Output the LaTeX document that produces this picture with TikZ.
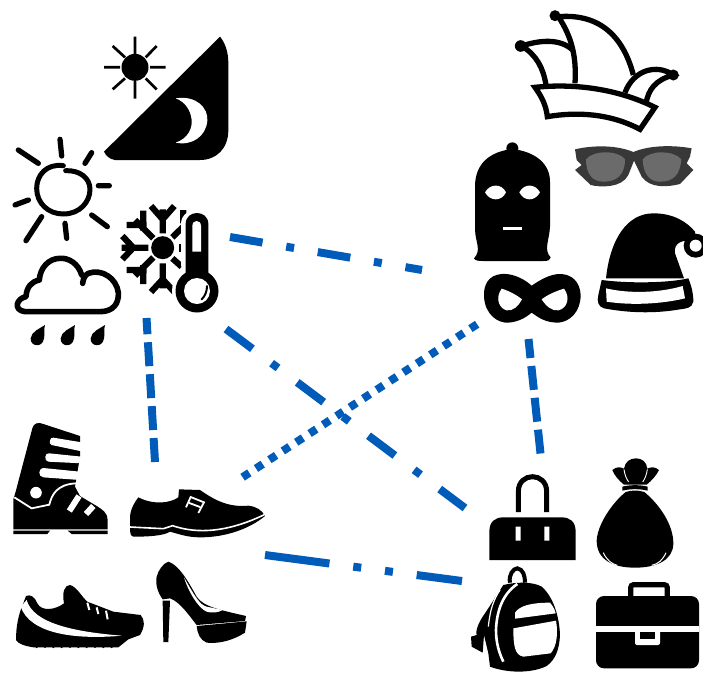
\documentclass[tikz,border=0pt]{standalone}
\definecolor{linkblue}{HTML}{005CB8}
\tikzset{
  zw/.style={shift={(0,20)},x=.33333pt,y=-.33333pt},
  zh/.style={shift={(460,0)},x=.33333pt,y=-.33333pt},
  zs/.style={shift={(0,410)},x=.33333pt,y=-.33333pt},
  zb/.style={shift={(460,450)},x=.33333pt,y=-.33333pt},
  zt/.style={shift={(115,200)},x=.33333pt,y=-.33333pt},
  link/.style={draw=linkblue,line width=8pt,line cap=butt},
  dashdot/.style={link,dash pattern=on 33pt off 24pt on 8pt off 24pt},
  dashdotdot/.style={link,dash pattern=on 65pt off 24pt on 8pt off 24pt on 8pt off 24pt},
  longdash/.style={link,dash pattern=on 24pt off 8pt},
  dotline/.style={link,dash pattern=on 8pt off 8pt},
  ink/.style={fill=black,draw=none},
  cut/.style={fill=white,draw=none},
  ray/.style={draw=black,line cap=round,line width=2.7pt},
  fat/.style={draw=black,line cap=round,line join=round,line width=5.3pt},
  flake/.style={draw=black,line cap=butt,line width=6.2pt},
}
\begin{document}
\begin{tikzpicture}[x=1pt,y=-1pt]
\useasboundingbox (0,0) rectangle (703,673);
\fill[white] (0,0) rectangle (703,673);

% ---------- day / night ----------
\begin{scope}[zw]
\fill (405,142) circle [radius=13.5pt];
\draw[ray,line cap=butt] (405,50)--(405,102) (405,183)--(405,236) (312,142)--(360,142) (450,142)--(497,142)
  (338,78)--(375,112) (470,78)--(437,112) (338,208)--(375,175) (470,208)--(437,175);
\fill[ink] (660,50) .. controls (678,72) and (685,100) .. (685,130) -- (685,330)
  .. controls (685,385) and (650,420) .. (600,420) -- (345,420)
  .. controls (330,418) and (318,408) .. (312,395) -- cycle;
\fill[cut] (527,235) .. controls (590,225) and (625,265) .. (622,302)
  .. controls (618,350) and (575,378) .. (527,368)
  .. controls (565,355) and (577,325) .. (575,300)
  .. controls (572,270) and (555,245) .. (527,235) -- cycle;
% ---------- sun ----------
\draw[fat,line width=5pt] (190,437) .. controls (140,430) and (110,465) .. (110,505)
  .. controls (110,550) and (145,582) .. (190,582)
  .. controls (240,582) and (270,545) .. (270,508)
  .. controls (270,475) and (240,450) .. (197,452);
\draw[fat] (180,358)--(185,408) (55,390)--(115,430) (275,398)--(255,430) (295,497)--(328,497)
  (45,555)--(85,540) (125,590)--(78,662) (195,610)--(200,655) (275,585)--(322,620);
% ---------- rain cloud ----------
\draw[fat,line width=5.6pt] (75,875) -- (300,875) .. controls (340,875) and (357,850) .. (355,818)
  .. controls (350,775) and (305,745) .. (265,760) .. controls (255,765) and (250,775) .. (248,790)
  (245,765) .. controls (235,730) and (205,713) .. (180,715)
  .. controls (145,715) and (120,745) .. (118,780)
  (118,780) .. controls (95,785) and (80,800) .. (78,830)
  .. controls (50,835) and (38,870) .. (75,875);
\foreach \dx in {0,90,180}{
  \fill[ink,shift={(\dx,0)}] (135,915) .. controls (130,930) and (135,945) .. (132,955)
   .. controls (128,985) and (90,980) .. (92,955) .. controls (94,935) and (120,925) .. (135,915) -- cycle;
}
\end{scope}

% ---------- snowflake + thermometer ----------
\begin{scope}[zt]
\fill (143,143) circle [radius=11.5pt];
\draw[flake] (143,100)--(143,28) (143,58)--(108,18) (143,58)--(178,18)
  (100,143)--(20,143) (55,143)--(22,108) (55,143)--(22,178)
  (143,190)--(143,265) (143,238)--(108,276) (143,238)--(178,276)
  (115,115)--(60,60) (85,32)--(85,92) (35,75)--(95,75)
  (115,172)--(60,227) (85,195)--(85,252) (35,210)--(95,210)
  (172,112)--(205,80) (205,30)--(205,70)
  (172,175)--(200,200);
\draw[line width=2.6pt] (197,133)--(197,155);
\fill[cut] (198,72) .. controls (198,16) and (294,16) .. (294,72) -- (294,200) -- (198,200) -- cycle;
\fill[cut] (246,273) circle [radius=25pt];
\fill[ink] (212,72) .. controls (212,28) and (280,28) .. (280,72) -- (280,232) -- (212,232) -- cycle;
\fill (246,273) circle [radius=21.5pt];
\fill[cut] (232,78) .. controls (232,58) and (258,58) .. (258,78) -- (258,155) -- (232,155) -- cycle;
\fill[cut] (246,273) circle [radius=13pt];
\draw[line width=2pt,line cap=round] (276,258) .. controls (276,275) and (270,288) .. (260,298);
\end{scope}

% ---------- jester hat and head wear ----------
\begin{scope}[zh]
\begin{scope}[line width=5.3pt,line join=miter,line cap=butt]
\draw (345,250) .. controls (350,170) and (335,110) .. (295,50)
  .. controls (420,40) and (490,110) .. (520,225);
\draw (338,150) .. controls (300,115) and (240,120) .. (185,138)
  .. controls (230,165) and (250,205) .. (258,255);
\draw (495,278) .. controls (520,210) and (590,190) .. (640,225)
  .. controls (585,240) and (565,270) .. (558,310);
\fill (285,47) circle [radius=5.5pt] (182,138) circle [radius=5.8pt] (640,225) circle [radius=5.5pt];
\draw[fill=white] (225,262) .. controls (340,250) and (470,265) .. (585,322)
  -- (540,388) .. controls (450,340) and (350,335) .. (262,350) .. controls (258,315) and (245,290) .. (225,262) -- cycle;
\end{scope}
% balaclava
\fill (157,445) circle [radius=6pt];
\fill[ink] (157,447) .. controls (90,455) and (45,490) .. (45,560) -- (45,690)
  .. controls (47,730) and (65,750) .. (42,775) .. controls (45,782) and (55,783) .. (70,783)
  -- (250,783) .. controls (265,783) and (272,780) .. (272,772)
  .. controls (250,750) and (268,720) .. (270,680) -- (270,545)
  .. controls (270,490) and (225,455) .. (157,447) -- cycle;
\fill[cut] (75,577) .. controls (90,550) and (125,550) .. (138,577) .. controls (125,605) and (90,605) .. (75,577) -- cycle;
\fill[cut] (178,577) .. controls (192,550) and (225,550) .. (240,577) .. controls (225,605) and (192,605) .. (178,577) -- cycle;
\fill[cut] (130,682) rectangle (186,689);
% sunglasses
\fill[fill=black!78] (345,448) .. controls (400,435) and (470,435) .. (520,456)
  .. controls (570,435) and (640,435) .. (695,445) -- (690,470) -- (680,490) -- (700,510) -- (660,552)
  .. controls (620,562) and (570,565) .. (545,530) -- (522,482) -- (505,525)
  .. controls (485,565) and (420,562) .. (392,555) -- (345,510) -- (365,495) -- (350,480) -- cycle;
\fill[fill=black!58] (378,478) .. controls (400,450) and (475,450) .. (495,478)
  .. controls (495,525) and (470,545) .. (430,545) .. controls (400,545) and (378,525) .. (378,478) -- cycle;
\fill[fill=black!58] (548,478) .. controls (570,450) and (640,450) .. (664,478)
  .. controls (660,525) and (640,545) .. (600,545) .. controls (570,545) and (550,525) .. (548,478) -- cycle;
% santa hat
\fill[ink] (438,835) .. controls (450,720) and (500,640) .. (580,640)
  .. controls (640,640) and (680,665) .. (705,695) -- (705,720)
  .. controls (670,720) and (640,725) .. (645,760) -- (672,835) -- cycle;
\fill (707,737) circle [radius=12pt];
\fill[cut] (707,737) circle [radius=6pt];
\fill[ink] (425,840) .. controls (500,850) and (620,850) .. (685,835)
  .. controls (695,860) and (700,880) .. (700,905) .. controls (695,925) and (680,925) .. (660,928)
  .. controls (580,942) and (500,938) .. (432,925) .. controls (415,920) and (410,905) .. (415,885) -- cycle;
\fill[cut] (438,865) .. controls (510,882) and (600,878) .. (668,858) -- (675,895)
  .. controls (600,913) and (510,916) .. (440,905) -- cycle;
% eye mask
\fill[ink] (215,857) .. controls (185,830) and (150,820) .. (125,822)
  .. controls (85,825) and (70,855) .. (72,890) .. controls (75,945) and (115,970) .. (145,968)
  .. controls (180,965) and (200,950) .. (215,938)
  .. controls (235,952) and (255,968) .. (295,968)
  .. controls (330,965) and (362,935) .. (362,885)
  .. controls (360,845) and (335,822) .. (300,822)
  .. controls (270,822) and (240,840) .. (215,857) -- cycle;
\fill[cut] (125,866) .. controls (150,874) and (170,885) .. (186,898)
  .. controls (176,918) and (158,934) .. (140,931) .. controls (118,926) and (104,895) .. (125,866) -- cycle;
\fill[cut] (312,866) .. controls (285,874) and (262,885) .. (245,898)
  .. controls (258,918) and (276,934) .. (295,931) .. controls (322,925) and (332,892) .. (312,866) -- cycle;
\end{scope}

% ---------- shoes ----------
\begin{scope}[zs]
% ski boot
\fill[ink] (97,55) .. controls (100,40) and (115,35) .. (130,42) -- (240,78) -- (240,140) -- (225,230) -- (240,258)
  -- (285,285) .. controls (310,300) and (323,310) .. (323,330) -- (323,358) -- (40,358) -- (40,268) -- (47,245) -- cycle;
\fill[cut] (150,92) .. controls (150,85) and (155,82) .. (160,83) -- (245,97) -- (245,124) -- (155,105) .. controls (150,103) and (148,98) .. (150,92) -- cycle;
\fill[cut] (136,140) .. controls (136,132) and (142,130) .. (148,130) -- (245,140) -- (245,160) -- (145,155) .. controls (138,154) and (135,148) .. (136,140) -- cycle;
\fill[cut] (118,187) .. controls (118,178) and (125,174) .. (130,174) -- (240,185) -- (240,210) -- (130,202) .. controls (122,200) and (117,195) .. (118,187) -- cycle;
\fill[cut] (108,248) circle [radius=5.8pt];
\draw[white,line width=1.8pt] (43,262) -- (95,295) -- (148,284) .. controls (155,255) and (170,222) .. (230,220);
\draw[white,line width=6pt] (237,258)--(208,303) (280,288)--(258,312);
\fill[ink] (40,362) -- (150,362) -- (142,372) -- (40,372) -- cycle;
\fill[ink] (203,362) -- (323,362) -- (323,372) -- (215,372) -- cycle;
% dress shoe
\fill[ink] (390,320) .. controls (392,295) and (405,275) .. (415,262)
  .. controls (460,285) and (510,280) .. (535,262) -- (537,238) -- (600,240)
  .. controls (650,275) and (690,292) .. (745,287) .. controls (770,290) and (785,300) .. (795,318)
  .. controls (750,355) and (680,382) .. (600,382) .. controls (560,382) and (530,370) .. (510,365)
  .. controls (490,378) and (440,380) .. (400,380) .. controls (390,378) and (390,365) .. (390,350) -- cycle;
\draw[white,line width=1.6pt] (390,351) -- (490,356) -- (518,347) .. controls (570,365) and (660,378) .. (793,314);
\draw[white,line width=1.8pt,line join=miter] (558,292) -- (572,261) -- (612,277) -- (595,309) (568,279) -- (600,291);
% sneaker
\fill[ink] (48,690) .. controls (48,650) and (55,615) .. (68,585) -- (78,558) .. controls (90,552) and (105,560) .. (112,580)
  .. controls (125,605) and (165,600) .. (192,580) .. controls (185,545) and (195,525) .. (210,525)
  .. controls (230,530) and (245,560) .. (262,575) -- (340,605) -- (422,615)
  .. controls (435,630) and (435,650) .. (420,675) -- (385,688) -- (355,712) -- (100,712) .. controls (75,708) and (55,702) .. (48,690) -- cycle;
\fill[cut] (62,590) -- (80,570) .. controls (100,640) and (220,665) .. (365,677)
  .. controls (220,690) and (90,670) .. (62,590) -- cycle;
\draw[white,line width=2pt] (262,578)--(268,600) (290,592)--(295,612) (318,602)--(323,628);
\foreach \bx in {110,135,160,185,210,235,260,285,310,335}{\fill[ink] (\bx,711) circle [radius=1.2pt];}
% high heel
\fill[ink] (505,455) .. controls (535,465) and (560,505) .. (590,560)
  .. controls (610,590) and (660,600) .. (738,618) -- (735,633) -- (590,645)
  .. controls (570,620) and (540,575) .. (510,565) -- (488,568)
  .. controls (475,550) and (465,525) .. (470,500) .. controls (475,480) and (490,460) .. (505,455) -- cycle;
\fill[ink] (488,572) -- (510,572) -- (505,696) -- (490,696) -- cycle;
\fill[ink] (590,648) -- (740,634) -- (735,668) .. controls (700,690) and (660,702) .. (620,698) .. controls (600,690) and (592,670) .. (590,648) -- cycle;
\fill[cut] (552,502) .. controls (585,560) and (600,585) .. (620,590) -- (668,600)
  .. controls (655,608) and (635,610) .. (620,605) .. controls (595,595) and (565,545) .. (552,502) -- cycle;
\end{scope}

% ---------- bags ----------
\begin{scope}[zb]
% handbag
\draw[line width=5pt] (175,186) -- (175,125) .. controls (175,65) and (260,65) .. (260,125) -- (260,186);
\fill[ink] (88,330) -- (88,245) .. controls (88,215) and (105,202) .. (130,202) -- (305,202)
  .. controls (330,202) and (347,215) .. (347,245) -- (347,330) -- cycle;
\fill[cut] (167,230) rectangle (182,272) (253,230) rectangle (268,272);
% money bag
\fill[ink] (457,60) .. controls (468,50) and (482,50) .. (492,56)
  .. controls (495,35) and (510,25) .. (528,25) .. controls (545,25) and (560,35) .. (562,56)
  .. controls (572,50) and (586,50) .. (597,60) .. controls (590,75) and (575,92) .. (560,104) -- (492,104)
  .. controls (477,92) and (462,75) .. (457,60) -- cycle;
\draw[white,line width=.9pt] (492,58) .. controls (494,72) and (498,85) .. (506,96)
  (562,58) .. controls (560,72) and (556,85) .. (548,96);
\fill[ink] (487,110) .. controls (510,104) and (540,104) .. (563,110) -- (563,122) .. controls (540,116) and (510,116) .. (487,122) -- cycle;
\fill[ink] (497,126) .. controls (515,120) and (535,120) .. (553,126) .. controls (600,165) and (640,225) .. (640,280)
  .. controls (640,330) and (590,353) .. (525,353) .. controls (460,353) and (410,330) .. (410,272)
  .. controls (412,225) and (455,160) .. (497,126) -- cycle;
\draw[white,line width=1pt] (430,308) .. controls (440,330) and (455,342) .. (472,346)
  (618,308) .. controls (608,330) and (595,342) .. (575,346);
% backpack
\draw[line width=4pt] (150,398) .. controls (145,375) and (160,355) .. (172,355) .. controls (190,358) and (195,378) .. (195,398);
\fill[ink] (130,405) .. controls (170,395) and (220,395) .. (245,410)
  .. controls (280,440) and (298,500) .. (300,555) .. controls (298,600) and (285,630) .. (260,648)
  .. controls (220,668) and (150,672) .. (90,650) -- (85,610) -- (72,555) -- (68,608) -- (35,590) -- (33,560) -- (50,555)
  .. controls (45,540) and (60,510) .. (75,490) -- cycle;
\draw[white,line width=2.6pt] (172,402) .. controls (130,430) and (110,480) .. (108,540) .. controls (108,580) and (118,610) .. (130,635);
\draw[white,line width=1.2pt] (120,420) .. controls (100,450) and (90,480) .. (85,530);
\fill[cut] (165,488) .. controls (180,465) and (220,458) .. (270,458) .. controls (280,470) and (285,480) .. (287,490) -- (165,506) -- cycle;
\fill[cut] (160,535) -- (288,512) .. controls (295,550) and (290,590) .. (272,610) -- (190,620) .. controls (165,615) and (160,590) .. (160,535) -- cycle;
% briefcase
\draw[line width=5.2pt,rounded corners=3pt] (512,445) -- (512,404) -- (622,404) -- (622,445);
\fill[ink,rounded corners=8pt] (408,438) rectangle (717,655);
\fill[cut] (408,529) rectangle (717,546);
\fill[cut,rounded corners=2pt] (525,540) rectangle (600,585);
\fill[ink] (541,546) rectangle (585,568);
\end{scope}

% ---------- connector ends ----------
\coordinate (weatherE) at (230,237);
\coordinate (weatherS) at (226,329);
\coordinate (weatherB) at (155,462);
\coordinate (weatherT) at (146.5,318);
\coordinate (headW)    at (422,270);
\coordinate (maskW)    at (479,323);
\coordinate (maskS)    at (528.5,339);
\coordinate (shoeNE)   at (242.6,477.2);
\coordinate (shoeE)    at (265,555);
\coordinate (bagN)     at (540.5,453.5);
\coordinate (bagW)     at (465,508);
\coordinate (packW)    at (462,581);

\draw[dashdot] (weatherE) -- (headW);
\draw[dashdot] (weatherS) -- (bagW);
\draw[longdash] (weatherB) -- (weatherT);
\draw[dotline] (shoeNE) -- (maskW);
\draw[longdash] (bagN) -- (maskS);
\draw[dashdotdot] (shoeE) -- (packW);
\end{tikzpicture}
\end{document}
